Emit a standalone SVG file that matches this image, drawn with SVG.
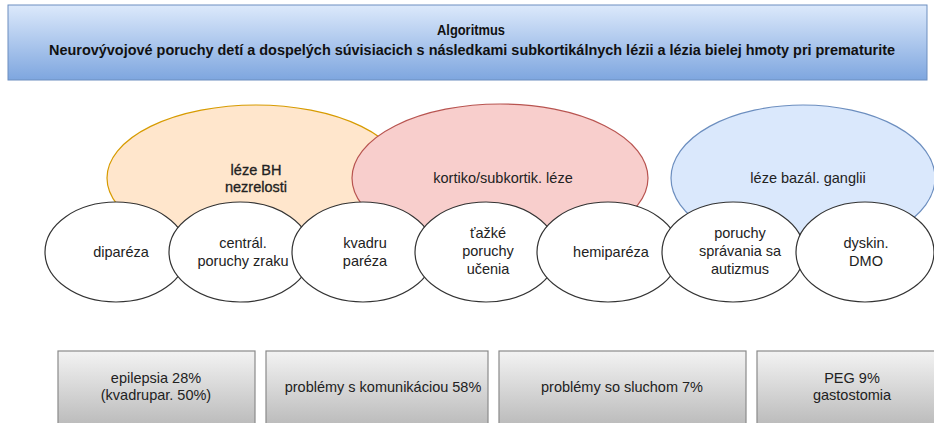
<svg xmlns="http://www.w3.org/2000/svg" width="934" height="423" viewBox="0 0 934 423">
<defs>
<linearGradient id="gHead" x1="0" y1="0" x2="0" y2="1">
<stop offset="0" stop-color="#dce9fb"/>
<stop offset="1" stop-color="#7ea6df"/>
</linearGradient>
<linearGradient id="gBox" x1="0" y1="0" x2="0" y2="1">
<stop offset="0" stop-color="#f3f3f3"/>
<stop offset="1" stop-color="#b3b3b3"/>
</linearGradient>
<style>
text{font-family:"Liberation Sans",Arial,sans-serif;fill:#222;text-anchor:middle}
.t{font-size:14.5px}
.h{font-size:15px;font-weight:bold;fill:#111}
.sm{fill:#fff;stroke:#333;stroke-width:1.2}
.box{fill:url(#gBox);stroke:#8a8a8a;stroke-width:1.2}
</style>
</defs>
<rect width="934" height="423" fill="#fff"/>
<g id="header">
<rect x="8" y="5" width="919" height="75" fill="url(#gHead)" stroke="#6c8ebf" stroke-width="1"/>
<text class="h" x="471" y="35" textLength="68" lengthAdjust="spacingAndGlyphs">Algoritmus</text>
<text class="h" x="472" y="55" textLength="846" lengthAdjust="spacingAndGlyphs">Neurovývojové poruchy detí a dospelých súvisiacich s následkami subkortikálnych lézii a lézia bielej hmoty pri prematurite</text>
</g>
<g id="lezeBH">
<ellipse cx="256" cy="178" rx="149" ry="73" fill="#ffe6cc" stroke="#d79b00" stroke-width="1.2"/>
<text class="t" x="256" y="175" stroke="#222" stroke-width="0.3">léze BH</text>
<text class="t" x="256" y="192" stroke="#222" stroke-width="0.3">nezrelosti</text>
</g>
<g id="kortiko">
<ellipse cx="500" cy="178" rx="148" ry="74" fill="#f8cecc" stroke="#b85450" stroke-width="1.2"/>
<text class="t" x="503" y="183">kortiko/subkortik. léze</text>
</g>
<g id="bazal">
<ellipse cx="803" cy="178" rx="132" ry="73" fill="#dae8fc" stroke="#6c8ebf" stroke-width="1.2"/>
<text class="t" x="808" y="183">léze bazál. ganglii</text>
</g>
<g id="diparez">
<ellipse class="sm" cx="116" cy="252" rx="71" ry="50"/>
<text class="t" x="121" y="257">diparéza</text>
</g>
<g id="zrak">
<ellipse class="sm" cx="240" cy="252" rx="71" ry="50"/>
<text class="t" x="243" y="248">centrál.</text>
<text class="t" x="243" y="266">poruchy zraku</text>
</g>
<g id="kvadru">
<ellipse class="sm" cx="363" cy="252" rx="71" ry="50"/>
<text class="t" x="365" y="248">kvadru</text>
<text class="t" x="365" y="266">paréza</text>
</g>
<g id="ucenie">
<ellipse class="sm" cx="486" cy="252" rx="71" ry="50"/>
<text class="t" x="488" y="238">ťažké</text>
<text class="t" x="488" y="256">poruchy</text>
<text class="t" x="488" y="274">učenia</text>
</g>
<g id="hemiparez">
<ellipse class="sm" cx="608" cy="252" rx="71" ry="50"/>
<text class="t" x="611" y="257">hemiparéza</text>
</g>
<g id="autizmus">
<ellipse class="sm" cx="733" cy="252" rx="71" ry="50"/>
<text class="t" x="740" y="238">poruchy</text>
<text class="t" x="740" y="256">správania sa</text>
<text class="t" x="740" y="274">autizmus</text>
</g>
<g id="dmo">
<ellipse class="sm" cx="865" cy="252" rx="69" ry="50"/>
<text class="t" x="866" y="248">dyskin.</text>
<text class="t" x="866" y="266">DMO</text>
</g>
<g id="connectors"></g>
<g id="epilepsia">
<rect class="box" x="58" y="351" width="197" height="85"/>
<text class="t" x="156" y="383">epilepsia 28%</text>
<text class="t" x="156" y="400">(kvadrupar. 50%)</text>
</g>
<g id="komunikacia">
<rect class="box" x="266" y="351" width="222" height="85"/>
<text class="t" x="383" y="392">problémy s komunikáciou 58%</text>
</g>
<g id="sluch">
<rect class="box" x="499" y="351" width="247" height="85"/>
<text class="t" x="622" y="392">problémy so sluchom 7%</text>
</g>
<g id="peg">
<rect class="box" x="757" y="351" width="190" height="85"/>
<text class="t" x="852" y="383">PEG 9%</text>
<text class="t" x="852" y="400">gastostomia</text>
</g>
</svg>
